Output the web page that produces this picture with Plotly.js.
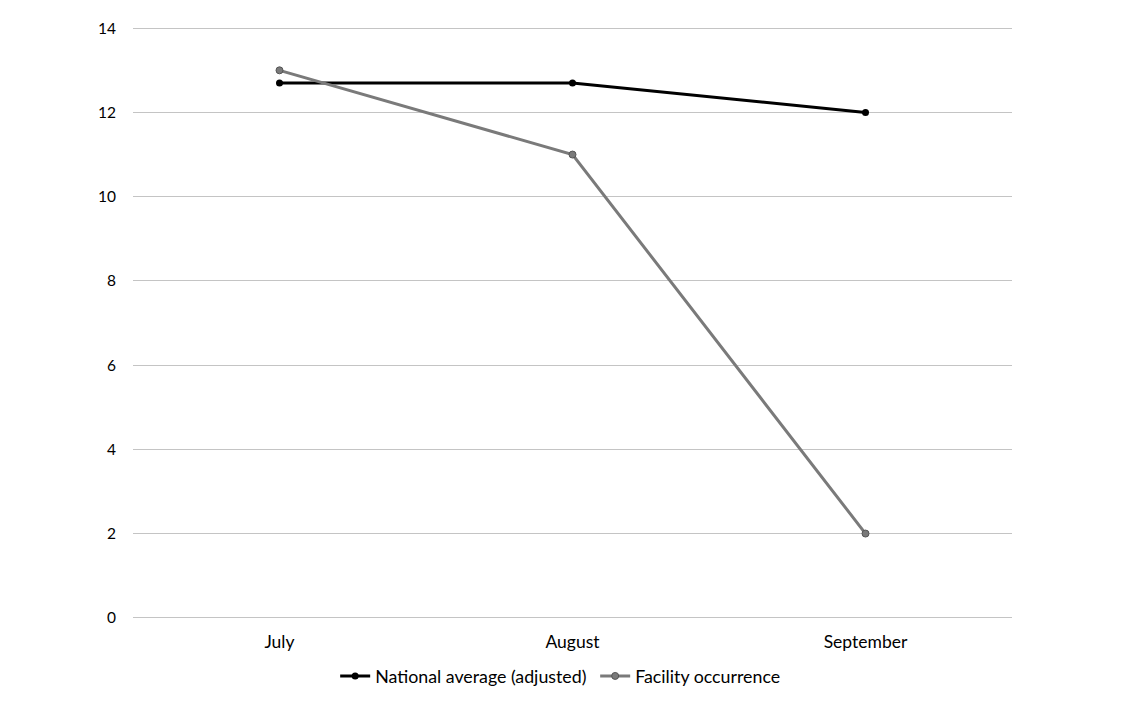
<!DOCTYPE html>
<html>
<head>
<meta charset="utf-8">
<script src="https://cdn.plot.ly/plotly-3.0.1.min.js"></script>
<style>html,body{margin:0;padding:0;background:#fff;}#chart{width:1127px;height:718px;}</style>
</head>
<body>
<div id="chart"></div>
<script>
const months = ["July", "August", "September"];
const nationalAverage = [12.7, 12.7, 12.0];
const facilityOccurrence = [13.0, 11.0, 2.0];
const yTicks = [0, 2, 4, 6, 8, 10, 12, 14];

const traces = [
  {
    x: months, y: nationalAverage, type: "scatter", mode: "lines+markers",
    name: "National average (adjusted)",
    line: {color: "#000000", width: 3},
    marker: {color: "#000000", size: 7, symbol: "circle"}
  },
  {
    x: months, y: facilityOccurrence, type: "scatter", mode: "lines+markers",
    name: "Facility occurrence",
    line: {color: "#7a7a7a", width: 3},
    marker: {color: "#7a7a7a", size: 7, symbol: "circle", line: {color: "#555", width: 1}}
  }
];

const layout = {
  width: 1127, height: 718,
  paper_bgcolor: "#ffffff", plot_bgcolor: "#ffffff",
  margin: {l: 133, r: 115, t: 24, b: 96},
  font: {family: "Lato, 'Open Sans', sans-serif", size: 15, color: "#000"},
  showlegend: true,
  legend: {orientation: "h", x: 0.23, xanchor: "left", y: -0.06, yanchor: "top",
           font: {size: 17.8, color: "#000"}, entrywidth: 215, entrywidthmode: "pixels",
           itemwidth: 30, tracegroupgap: 0},
  xaxis: {
    type: "category", range: [-0.5, 2.5], showgrid: false, zeroline: false,
    showline: false, ticks: "", tickfont: {size: 17.5}, ticklabelstandoff: 7
  },
  yaxis: {
    range: [-0.1, 14.1], tickvals: yTicks, ticktext: yTicks.map(String),
    showgrid: true, gridcolor: "#c4c4c4", gridwidth: 1, zeroline: false,
    showline: false, ticks: "", tickfont: {size: 15.5}, ticklabelstandoff: 16
  }
};

Plotly.newPlot("chart", traces, layout, {displayModeBar: false, staticPlot: true});
</script>
</body>
</html>
